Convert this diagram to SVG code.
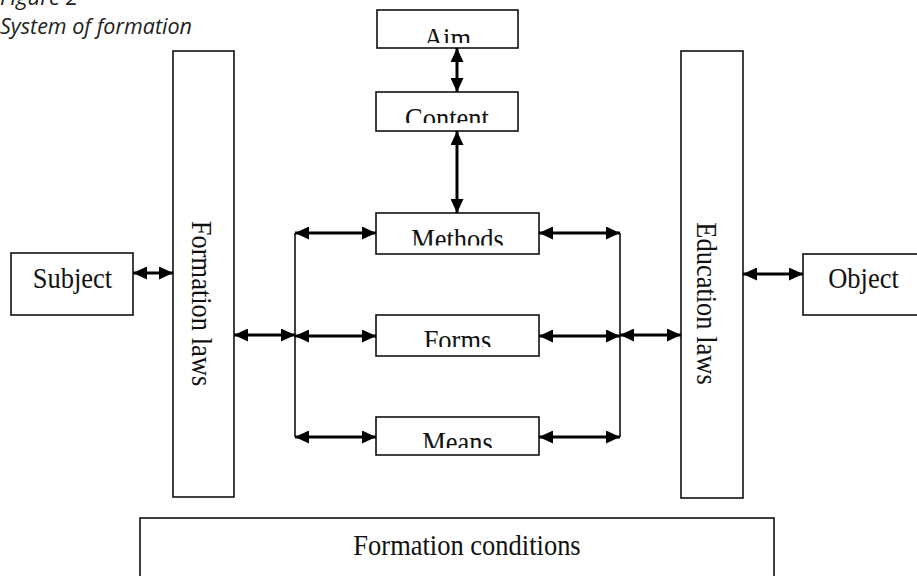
<svg xmlns="http://www.w3.org/2000/svg" width="917" height="576" viewBox="0 0 917 576">
<style>
.box{fill:#fff;stroke:#111;stroke-width:1.6}
.lbl{font-family:"Liberation Serif","Times New Roman",serif;font-size:26.5px;fill:#111;text-anchor:middle}
.cap{font-family:"Open Sans","Noto Sans",sans-serif;font-style:italic;font-size:22px;fill:#222}
.arr{stroke:#000;stroke-width:3;fill:none;marker-start:url(#ah);marker-end:url(#ah)}
.bus{stroke:#111;stroke-width:1.6;fill:none}
</style>
<defs>
<marker id="ah" markerUnits="userSpaceOnUse" markerWidth="14" markerHeight="13" refX="14" refY="6.5" orient="auto-start-reverse">
<path d="M0,0 L14,6.5 L0,13 z" fill="#000"/>
</marker>
<clipPath id="cAim"><rect x="378" y="11" width="139" height="32"/></clipPath>
<clipPath id="cContent"><rect x="377" y="93" width="140" height="30"/></clipPath>
<clipPath id="cMethods"><rect x="377" y="214" width="161" height="31.5"/></clipPath>
<clipPath id="cForms"><rect x="377" y="316" width="161" height="31"/></clipPath>
<clipPath id="cMeans"><rect x="377" y="418" width="161" height="30"/></clipPath>
</defs>

<text class="cap" x="0" y="5" textLength="78" lengthAdjust="spacingAndGlyphs">Figure 2</text>
<text class="cap" x="0" y="34" textLength="192" lengthAdjust="spacingAndGlyphs">System of formation</text>

<g id="aim"><rect class="box" x="377" y="10" width="141" height="38"/>
<g clip-path="url(#cAim)"><text class="lbl" transform="translate(447.5,47.5) scale(1,1.1)">Aim</text></g></g>

<g id="content"><rect class="box" x="376" y="92" width="142" height="39"/>
<g clip-path="url(#cContent)"><text class="lbl" transform="translate(447,127.5) scale(1,1.1)">Content</text></g></g>

<g id="methods"><rect class="box" x="376" y="213" width="163" height="41"/>
<g clip-path="url(#cMethods)"><text class="lbl" transform="translate(457.5,248.5) scale(1,1.1)">Methods</text></g></g>

<g id="forms"><rect class="box" x="376" y="315" width="163" height="41"/>
<g clip-path="url(#cForms)"><text class="lbl" transform="translate(457.5,349.5) scale(1,1.1)">Forms</text></g></g>

<g id="means"><rect class="box" x="376" y="417" width="163" height="38"/>
<g clip-path="url(#cMeans)"><text class="lbl" transform="translate(457.5,452) scale(1,1.1)">Means</text></g></g>

<g id="subject"><rect class="box" x="11" y="253" width="122" height="62"/>
<text class="lbl" transform="translate(72.5,288) scale(1,1.1)">Subject</text></g>

<g id="object"><rect class="box" x="803" y="254" width="120" height="61"/>
<text class="lbl" transform="translate(863.5,288) scale(1,1.1)">Object</text></g>

<g id="formation-laws"><rect class="box" x="173" y="51" width="61" height="446"/>
<text class="lbl" transform="translate(192,303.5) rotate(90) scale(1,1.1)">Formation laws</text></g>

<g id="education-laws"><rect class="box" x="681" y="51" width="62" height="447"/>
<text class="lbl" transform="translate(697,303.5) rotate(90) scale(1,1.1)">Education laws</text></g>

<g id="formation-conditions"><rect class="box" x="140" y="518" width="634" height="80"/>
<text class="lbl" transform="translate(467,555) scale(1,1.1)">Formation conditions</text></g>

<g id="connectors">
<line class="bus" x1="295" y1="233" x2="295" y2="437"/>
<line class="bus" x1="620" y1="233" x2="620" y2="437"/>
<line class="arr" x1="457" y1="48" x2="457" y2="92"/>
<line class="arr" x1="457" y1="131" x2="457" y2="213"/>
<line class="arr" x1="133" y1="273" x2="173" y2="273"/>
<line class="arr" x1="234" y1="335" x2="295" y2="335"/>
<line class="arr" x1="295" y1="233" x2="376" y2="233"/>
<line class="arr" x1="295" y1="336" x2="376" y2="336"/>
<line class="arr" x1="295" y1="437" x2="376" y2="437"/>
<line class="arr" x1="539" y1="233" x2="620" y2="233"/>
<line class="arr" x1="539" y1="336" x2="620" y2="336"/>
<line class="arr" x1="539" y1="437" x2="620" y2="437"/>
<line class="arr" x1="620" y1="335" x2="681" y2="335"/>
<line class="arr" x1="743" y1="274" x2="803" y2="274"/>
</g>
</svg>
